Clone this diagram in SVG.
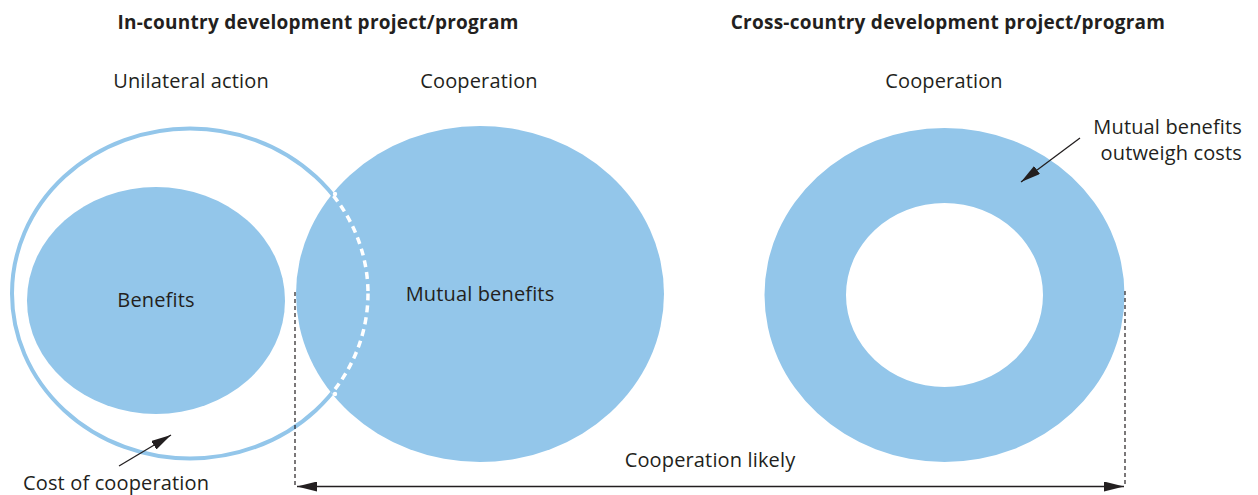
<svg xmlns="http://www.w3.org/2000/svg" width="1258" height="495" viewBox="0 0 1258 495">
  <style>
    text { font-family: "Open Sans", "Liberation Sans", sans-serif; fill: #231f20; }
    .title { font-size: 19px; font-weight: bold; text-anchor: middle; letter-spacing: 0.25px; }
    .label { font-size: 20px; text-anchor: middle; letter-spacing: 0.15px; }
    .fill { fill: #93c6ea; }
    .guide { stroke: #231f20; stroke-width: 1.2; stroke-dasharray: 4 3; fill: none; }
    .arrow { stroke: #231f20; stroke-width: 1.3; fill: none; }
  </style>
  <defs>
    <marker id="headBig" viewBox="0 0 20 10" refX="20" refY="5" markerWidth="20" markerHeight="10" markerUnits="userSpaceOnUse" orient="auto-start-reverse">
      <path d="M0,0 L20,5 L0,10 z" fill="#231f20"/>
    </marker>
    <clipPath id="mutualClip">
      <ellipse cx="480" cy="294" rx="184" ry="168"/>
    </clipPath>
  </defs>

  <text class="title" x="318" y="29">In-country development project/program</text>
  <text class="title" x="948" y="29">Cross-country development project/program</text>

  <g id="unilateral">
    <ellipse cx="190" cy="293.5" rx="178" ry="165" fill="none" stroke="#93c6ea" stroke-width="4"/>
    <text class="label" x="191" y="88">Unilateral action</text>
  </g>

  <g id="benefits">
    <ellipse class="fill" cx="156" cy="300.5" rx="129" ry="113.5"/>
    <text class="label" x="156" y="307">Benefits</text>
  </g>

  <g id="mutual">
    <ellipse class="fill" cx="480" cy="294" rx="184" ry="168"/>
    <!-- hidden edge of the unilateral ring inside the overlap -->
    <ellipse cx="190" cy="293.5" rx="178" ry="165" fill="none" stroke="#ffffff" stroke-width="3.5" stroke-dasharray="7 5" clip-path="url(#mutualClip)"/>
    <circle cx="335" cy="194" r="2.2" fill="#ffffff"/>
    <circle cx="335" cy="394" r="2.2" fill="#ffffff"/>
    <text class="label" x="480" y="301">Mutual benefits</text>
    <text class="label" x="479" y="88">Cooperation</text>
  </g>

  <g id="crossCountry">
    <path class="fill" fill-rule="evenodd" d="M764.5,295 a180,167 0 1,0 360,0 a180,167 0 1,0 -360,0 z M846,295 a98.5,92 0 1,0 197,0 a98.5,92 0 1,0 -197,0 z"/>
    <text class="label" x="944" y="88">Cooperation</text>
    <text class="label" x="1242" y="134" style="text-anchor:end">Mutual benefits</text>
    <text class="label" x="1242" y="160" style="text-anchor:end">outweigh costs</text>
  </g>

  <g id="connectors">
    <line class="guide" x1="295" y1="292" x2="295" y2="488"/>
    <line class="guide" x1="1125" y1="291" x2="1125" y2="487"/>
    <line class="arrow" x1="297" y1="486.5" x2="1124" y2="486.5" marker-start="url(#headBig)" marker-end="url(#headBig)"/>
    <line class="arrow" x1="119" y1="466" x2="171" y2="435" marker-end="url(#headBig)"/>
    <line class="arrow" x1="1080" y1="138" x2="1021" y2="182" marker-end="url(#headBig)"/>
  </g>

  <text class="label" x="710" y="467">Cooperation likely</text>
  <text class="label" x="23" y="490" style="text-anchor:start">Cost of cooperation</text>
</svg>
